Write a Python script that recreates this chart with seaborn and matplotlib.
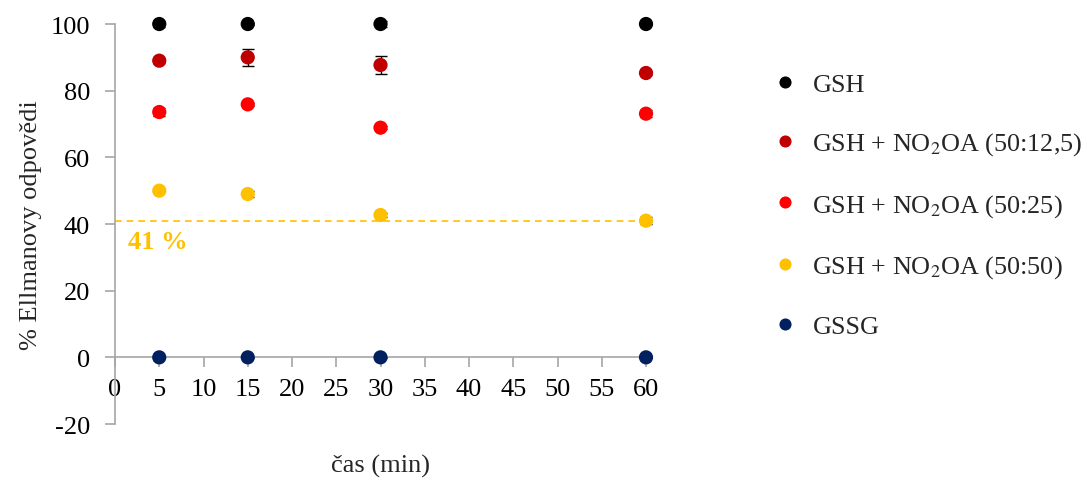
import matplotlib
matplotlib.use("Agg")
import matplotlib.pyplot as plt
import numpy as np
import pandas as pd
import seaborn as sns

# Data
times = [5, 15, 30, 60]
series_names = [
    "GSH",
    r"GSH + NO$_2$OA (50:12,5)",
    r"GSH + NO$_2$OA (50:25)",
    r"GSH + NO$_2$OA (50:50)",
    "GSSG",
]
gsh = [100, 100, 100, 100]
gsh_125 = [89, 90, 87.7, 85.3]
gsh_25 = [73.6, 75.9, 68.9, 73.1]
gsh_50 = [50, 49, 42.7, 41]
gssg = [0, 0, 0, 0]

gsh_err = [1.0, 0.3, 1.0, 0.3]
gsh_125_err = [0.8, 2.5, 2.8, 0.5]
gsh_25_err = [1.2, 0.5, 0.5, 1.0]
gsh_50_err = [0.5, 0.8, 0.5, 1.0]
gssg_err = [0.2, 0.2, 0.2, 0.2]

colors = ["#000000", "#C00000", "#FF0000", "#FFC000", "#002060"]
threshold = 41
threshold_label = "41 %"

values = [gsh, gsh_125, gsh_25, gsh_50, gssg]
errors = [gsh_err, gsh_125_err, gsh_25_err, gsh_50_err, gssg_err]

df = pd.DataFrame(
    [
        {"čas (min)": t, "odpověď": v, "err": e, "vzorek": name}
        for name, vals, errs in zip(series_names, values, errors)
        for t, v, e in zip(times, vals, errs)
    ]
)

sns.set_theme(style="white")
plt.rcParams["font.family"] = ["Liberation Serif", "DejaVu Serif"]
plt.rcParams["mathtext.fontset"] = "stix"
plt.rcParams["axes.unicode_minus"] = False

FS = 19

fig = plt.figure(figsize=(10.87, 4.81), dpi=100)
ax = fig.add_axes([0.1058, 0.1164, 0.4885, 0.8316])

grey = "#A6A6A6"

# Threshold line
ax.axhline(threshold, color=colors[3], lw=1.2, ls=(0, (4, 3)), zorder=1,
           xmax=1.005, clip_on=False)
ax.text(1.5, 34.8, threshold_label, color=colors[3], fontsize=FS,
        fontweight="bold", ha="left", va="center")

# Error bars
for name in series_names:
    sub = df[df["vzorek"] == name]
    eb = ax.errorbar(sub["čas (min)"], sub["odpověď"], yerr=sub["err"], fmt="none",
                     ecolor="black", elinewidth=1.0, capsize=4, capthick=1.0,
                     zorder=2)
    for art in eb.lines[1] + eb.lines[2]:
        art.set_clip_on(False)

sns.scatterplot(data=df, x="čas (min)", y="odpověď", hue="vzorek",
                hue_order=series_names, palette=colors, s=105,
                edgecolor="none", ax=ax, zorder=3, clip_on=False)

ax.set_xlim(0, 60)
ax.set_ylim(-20, 100)
ax.set_xticks(np.arange(0, 61, 5))
ax.set_yticks(np.arange(-20, 101, 20))

for side in ["top", "right"]:
    ax.spines[side].set_visible(False)
ax.spines["bottom"].set_position(("data", 0))
ax.spines["left"].set_color(grey)
ax.spines["bottom"].set_color(grey)
ax.spines["left"].set_linewidth(1.2)
ax.spines["bottom"].set_linewidth(1.2)

ax.tick_params(axis="both", which="major", labelsize=FS, color=grey,
               length=7, width=1.2, direction="out", labelcolor="black")
ax.tick_params(axis="x", pad=8, bottom=True)
ax.tick_params(axis="y", pad=11, left=True)

ax.set_xlabel("čas (min)", fontsize=FS)
ax.set_ylabel("% Ellmanovy odpovědi", fontsize=FS)
ax.xaxis.set_label_coords(0.5, -0.075)
ax.yaxis.set_label_coords(-0.138, 0.5)

leg = ax.legend(loc="upper left", bbox_to_anchor=(1.2175, 0.905), frameon=False,
                fontsize=18.8, labelspacing=1.33, handlelength=1.0,
                handletextpad=0.55, markerscale=0.85, borderaxespad=0)

fig.savefig("out.png", dpi=100)
